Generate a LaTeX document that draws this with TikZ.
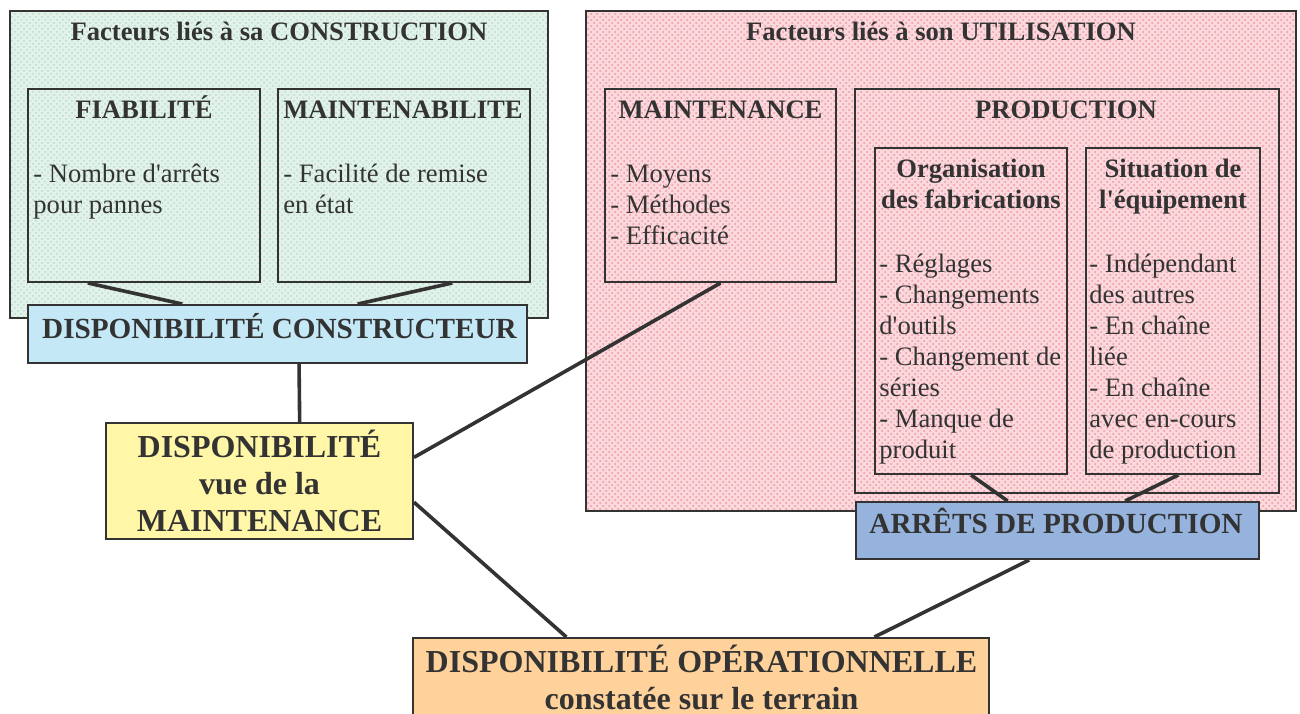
\documentclass[tikz,border=0pt]{standalone}
\usepackage{fontspec}
\setmainfont{Liberation Serif}
\usetikzlibrary{calc,patterns,positioning}

\definecolor{ink}{HTML}{333333}
\definecolor{greenbase}{HTML}{E2F2EA}
\definecolor{greendot}{HTML}{B6DEC9}
\definecolor{pinkbase}{HTML}{FAD8DC}
\definecolor{pinkdot}{HTML}{EE96A2}
\definecolor{constrblue}{HTML}{C5E8F7}
\definecolor{maintyellow}{HTML}{FFF6A8}
\definecolor{operorange}{HTML}{FFD29C}
\definecolor{arretblue}{HTML}{95B3DD}

\tikzset{
  box/.style={draw=ink, line width=1pt, inner sep=0pt},
  greenzone/.style={box, preaction={fill=greenbase}, pattern=crosshatch dots, pattern color=greendot},
  pinkzone/.style={box, preaction={fill=pinkbase}, pattern=crosshatch dots, pattern color=pinkdot},
  link/.style={draw=ink, line width=1.8pt},
  % multi-line texts: anchor at the baseline of the last line
  txt/.style={inner sep=0pt, text=ink, font=\fontsize{13.3}{15.5}\selectfont, align=left, anchor=base west},
  ttl/.style={inner sep=0pt, text=ink, font=\bfseries\fontsize{13.3}{15.5}\selectfont, align=center, anchor=base},
  mid/.style={inner sep=0pt, text=ink, font=\bfseries\fontsize{14.6}{17}\selectfont, anchor=base},
  big/.style={inner sep=0pt, text=ink, font=\bfseries\fontsize{16}{18.5}\selectfont, align=center, anchor=base},
}

\begin{document}
\begin{tikzpicture}[x=0.5pt, y=-0.5pt]
    \useasboundingbox (0,0) rectangle (1300,713);

    % construction side
    \node[greenzone, minimum width=269pt, minimum height=153.5pt] (constr) at (279,164.5) {};
    \node[ttl] (constrtitle) at (279,40) {Facteurs liés à sa CONSTRUCTION};
    \node[box, minimum width=116pt, minimum height=96.5pt] (fiab) at (144,185.5) {};
    \node[ttl] (fiabtitle) at (144,118) {FIABILITÉ};
    \node[txt] (fiabtext) at (33,213) {- Nombre d\textquotesingle arrêts\\pour pannes};
    \node[box, minimum width=126pt, minimum height=96.5pt] (maintb) at (404,185.5) {};
    \node[ttl] (maintbtitle) at (403,118) {MAINTENABILITE};
    \node[txt] (maintbtext) at (283,213) {- Facilité de remise\\en état};

    % utilisation side
    \node[pinkzone, minimum width=355pt, minimum height=250pt] (utilis) at (941,261) {};
    \node[ttl] (utilistitle) at (941,40) {Facteurs liés à son UTILISATION};
    \node[box, minimum width=115.5pt, minimum height=96.5pt] (maint) at (720.5,185.5) {};
    \node[ttl] (mainttitle) at (720.5,118) {MAINTENANCE};
    \node[txt] (mainttext) at (610,244) {- Moyens\\- Méthodes\\- Efficacité};
    \node[box, minimum width=212pt, minimum height=202pt] (prod) at (1067,291) {};
    \node[ttl] (prodtitle) at (1066,118) {PRODUCTION};
    \node[box, minimum width=96pt, minimum height=163pt] (orga) at (971,311) {};
    \node[ttl] (orgatitle) at (971,208) {Organisation\\des fabrications};
    \node[txt] (orgatext) at (879,458) {- Réglages\\- Changements\\d\textquotesingle outils\\- Changement de\\séries\\- Manque de\\produit};
    \node[box, minimum width=87pt, minimum height=163pt] (situ) at (1173,311) {};
    \node[ttl] (situtitle) at (1173,208) {Situation de\\l\textquotesingle équipement};
    \node[txt] (situtext) at (1089,458) {- Indépendant\\des autres\\- En chaîne\\liée\\- En chaîne\\avec en-cours\\de production};

    % availability boxes
    \node[box, fill=constrblue, minimum width=249.5pt, minimum height=29pt] (dispc) at (277.5,334) {};
    \node[mid] (dispctext) at (279.5,338) {DISPONIBILITÉ CONSTRUCTEUR};
    \node[box, fill=arretblue, minimum width=201.5pt, minimum height=28.5pt] (arrets) at (1057.5,530.5) {};
    \node[mid] (arretstext) at (1056,533) {ARRÊTS DE PRODUCTION};
    \node[box, fill=maintyellow, minimum width=153.5pt, minimum height=58pt] (dispm) at (259.5,481) {};
    \node[big] (dispmtext) at (259.5,531.5) {DISPONIBILITÉ\\vue de la\\MAINTENANCE};
    \node[box, fill=operorange, minimum width=288pt, minimum height=66pt] (dispo) at (701,704) {};
    \node[big] (dispotext) at (701.5,709.5) {DISPONIBILITÉ OPÉRATIONNELLE\\constatée sur le terrain};

    % links
    \draw[link] ($(fiab.south west)!0.26!(fiab.south east)$) -- ($(dispc.north west)!0.31!(dispc.north east)$);
    \draw[link] ($(maintb.south west)!0.69!(maintb.south east)$) -- ($(dispc.north west)!0.66!(dispc.north east)$);
    \draw[link] ($(dispc.south west)!0.543!(dispc.south east)$) -- ($(dispm.north west)!0.63!(dispm.north east)$);
    \draw[link] ($(dispm.north east)!0.3!(dispm.south east)$) -- (maint.south);
    \draw[link] ($(dispm.north east)!0.68!(dispm.south east)$) -- ($(dispo.north west)!0.267!(dispo.north east)$);
    \draw[link] (orga.south) -- ($(arrets.north west)!0.377!(arrets.north east)$);
    \draw[link] ($(situ.south west)!0.53!(situ.south east)$) -- ($(arrets.north west)!0.667!(arrets.north east)$);
    \draw[link] ($(arrets.south west)!0.43!(arrets.south east)$) -- ($(dispo.north west)!0.8!(dispo.north east)$);
\end{tikzpicture}
\end{document}
